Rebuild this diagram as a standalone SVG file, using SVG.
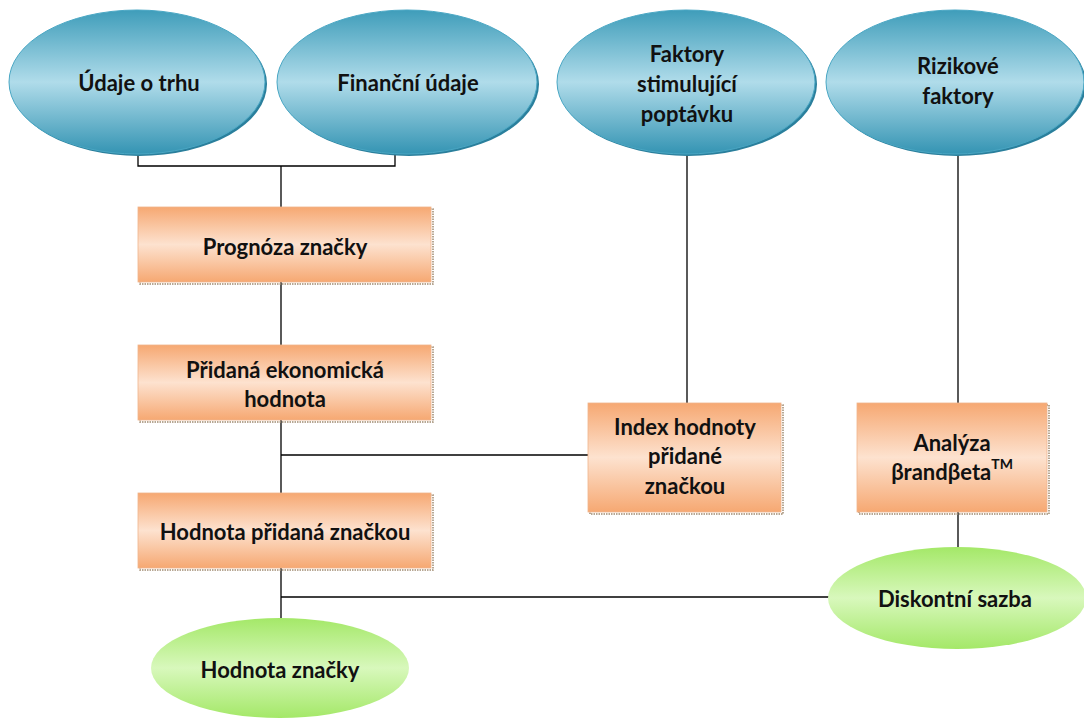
<svg xmlns="http://www.w3.org/2000/svg" width="1084" height="718" viewBox="0 0 1084 718">
<defs>
<linearGradient id="gBlue" x1="0" y1="0" x2="0" y2="1">
<stop offset="0" stop-color="#3f9dba"/>
<stop offset="0.5" stop-color="#b0dcea"/>
<stop offset="1" stop-color="#3494b3"/>
</linearGradient>
<linearGradient id="gOrange" x1="0" y1="0" x2="0" y2="1">
<stop offset="0" stop-color="#f6a872"/>
<stop offset="0.5" stop-color="#fde2cf"/>
<stop offset="1" stop-color="#f6a872"/>
</linearGradient>
<linearGradient id="gGreen" x1="0" y1="0" x2="0" y2="1">
<stop offset="0" stop-color="#a4e868"/>
<stop offset="0.5" stop-color="#d8f8bc"/>
<stop offset="1" stop-color="#a4e868"/>
</linearGradient>
<style>
.blue{fill:url(#gBlue);stroke:#4aa7c4;stroke-width:1}
.bshadow{fill:#2a7f9c}
.orange{fill:url(#gOrange);stroke:#f0b58c;stroke-width:0.8}
.oshadow{fill:none;stroke:#a08a70;stroke-width:1.5;stroke-dasharray:1.5 1}
.green{fill:url(#gGreen)}
.conn{fill:none;stroke:#000;stroke-width:1.3}
text{font-family:"Lato","Open Sans","Liberation Sans",sans-serif;font-weight:bold;font-size:22px;fill:#111;text-anchor:middle;dominant-baseline:central}
</style>
</defs>
<g id="connectors">
<polyline class="conn" points="138,155 138,166 395,166 395,155"/>
<line class="conn" x1="281" y1="166" x2="281" y2="207"/>
<line class="conn" x1="281" y1="282" x2="281" y2="345"/>
<line class="conn" x1="281" y1="420" x2="281" y2="493"/>
<line class="conn" x1="281" y1="455" x2="588" y2="455"/>
<line class="conn" x1="687" y1="155" x2="687" y2="403"/>
<line class="conn" x1="958" y1="155" x2="958" y2="403"/>
<line class="conn" x1="958" y1="512" x2="958" y2="548"/>
<line class="conn" x1="281" y1="568" x2="281" y2="618"/>
<line class="conn" x1="281" y1="597" x2="830" y2="597"/>
</g>
<g id="n-udaje">
<ellipse class="bshadow" cx="139" cy="84" rx="128" ry="72"/>
<ellipse class="blue" cx="137" cy="82" rx="128" ry="72"/>
<text x="139" y="82">Údaje o trhu</text>
</g>
<g id="n-financni">
<ellipse class="bshadow" cx="409" cy="84" rx="130" ry="72"/>
<ellipse class="blue" cx="407" cy="82" rx="130" ry="72"/>
<text x="408" y="82">Finanční údaje</text>
</g>
<g id="n-faktory">
<ellipse class="bshadow" cx="688" cy="84" rx="129" ry="72"/>
<ellipse class="blue" cx="686" cy="82" rx="129" ry="72"/>
<text x="687" y="53">Faktory</text>
<text x="687" y="83">stimulující</text>
<text x="687" y="113">poptávku</text>
</g>
<g id="n-rizikove">
<ellipse class="bshadow" cx="957" cy="84" rx="129" ry="72"/>
<ellipse class="blue" cx="955" cy="82" rx="129" ry="72"/>
<text x="958" y="65">Rizikové</text>
<text x="958" y="95">faktory</text>
</g>
<g id="n-prognoza">
<rect class="oshadow" x="140" y="209" width="293" height="75"/>
<rect class="orange" x="138" y="207" width="293" height="75"/>
<text x="285" y="246">Prognóza značky</text>
</g>
<g id="n-pridana">
<rect class="oshadow" x="140" y="347" width="293" height="75"/>
<rect class="orange" x="138" y="345" width="293" height="75"/>
<text x="285" y="369">Přidaná ekonomická</text>
<text x="285" y="398">hodnota</text>
</g>
<g id="n-index">
<rect class="oshadow" x="590" y="405" width="193" height="109"/>
<rect class="orange" x="588" y="403" width="193" height="109"/>
<text x="685" y="426">Index hodnoty</text>
<text x="685" y="455">přidané</text>
<text x="685" y="485">značkou</text>
</g>
<g id="n-analyza">
<rect class="oshadow" x="859" y="405" width="190" height="109"/>
<rect class="orange" x="857" y="403" width="190" height="109"/>
<text x="952" y="442">Analýza</text>
<text x="952" y="471">βrandβeta<tspan font-size="14" dy="-8">TM</tspan></text>
</g>
<g id="n-hodnota-pridana">
<rect class="oshadow" x="140" y="495" width="293" height="75"/>
<rect class="orange" x="138" y="493" width="293" height="75"/>
<text x="285" y="531">Hodnota přidaná značkou</text>
</g>
<g id="n-diskontni">
<ellipse class="green" cx="957" cy="598" rx="129" ry="51"/>
<text x="955" y="598">Diskontní sazba</text>
</g>
<g id="n-hodnota-znacky">
<ellipse class="green" cx="280" cy="668" rx="129" ry="50"/>
<text x="280" y="669">Hodnota značky</text>
</g>
</svg>
